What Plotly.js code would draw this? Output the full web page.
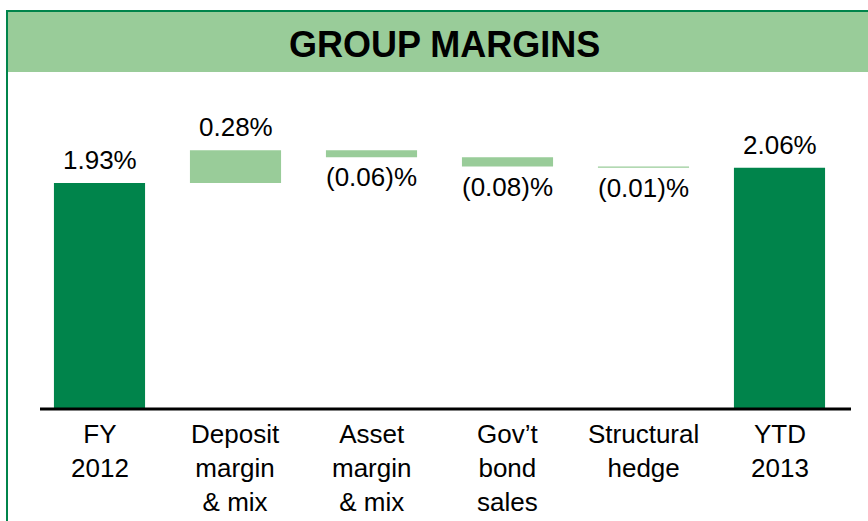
<!DOCTYPE html>
<html>
<head>
<meta charset="utf-8">
<script src="https://cdn.plot.ly/plotly-3.0.1.min.js"></script>
<style>
  html, body { margin: 0; padding: 0; background: #ffffff; }
  #chart { width: 868px; height: 521px; }
</style>
</head>
<body>
<div id="chart"></div>
<script>
// ---- data ----
const categories = ["FY<br>2012", "Deposit<br>margin<br>& mix", "Asset<br>margin<br>& mix", "Gov\u2019t<br>bond<br>sales", "Structural<br>hedge", "YTD<br>2013"];
const values = [1.93, 0.28, -0.06, -0.08, -0.01, 2.06];
const measures = ["absolute", "relative", "relative", "relative", "relative", "total"];
const valueLabels = ["1.93%", "0.28%", "(0.06)%", "(0.08)%", "(0.01)%", "2.06%"];
const chartTitle = "GROUP MARGINS";

// ---- styles ----
const darkGreen = "#00844B";
const lightGreen = "#99CC99";
const borderGreen = "#00844B";
const font = "Arial, 'Liberation Sans', sans-serif";
const titleFont = "Arial, 'Liberation Sans', sans-serif";

const W = 868, H = 521;
const pxPerCat = 136, firstCatPx = 99.5;
const baselinePx = 409, pxPerUnit = 117.1;

const xr0 = -firstCatPx / pxPerCat;
const xr1 = xr0 + W / pxPerCat;
const yr1 = baselinePx / pxPerUnit;
const yr0 = yr1 - H / pxPerUnit;

const trace = {
  type: "waterfall",
  x: categories,
  y: values,
  measure: measures,
  orientation: "v",
  width: 0.67,
  increasing: { marker: { color: lightGreen } },
  decreasing: { marker: { color: lightGreen } },
  totals: { marker: { color: darkGreen } },
  connector: { visible: false },
  textposition: "none",
  hoverinfo: "skip"
};

// compute bar extents for labels
const annotations = [];
let cum = 0;
categories.forEach((c, i) => {
  let lo, hi, pos;
  if (measures[i] === "absolute") { cum = values[i]; lo = 0; hi = cum; pos = true; }
  else if (measures[i] === "total") { lo = 0; hi = cum; pos = true; }
  else { const s = cum; cum += values[i]; lo = Math.min(s, cum); hi = Math.max(s, cum); pos = values[i] >= 0; }
  annotations.push({
    x: c, y: pos ? hi : lo, xref: "x", yref: "y",
    text: valueLabels[i], showarrow: false,
    yanchor: pos ? "bottom" : "top",
    yshift: pos ? 6 : -3,
    font: { family: font, size: 26, color: "#000000" }
  });
  annotations.push({
    x: c, y: 0, xref: "x", yref: "y",
    text: c, showarrow: false, yanchor: "top", yshift: -8,
    font: { family: font, size: 26, color: "#000000" }
  });
});

annotations.push({
  x: 444 / W, y: 1 - 44 / H, xref: "paper", yref: "paper",
  text: "<b>" + chartTitle + "</b>", showarrow: false,
  xanchor: "center", yanchor: "middle",
  font: { family: titleFont, size: 36, color: "#000000" }
});

const shapes = [
  // header band
  { type: "rect", xref: "paper", yref: "paper", x0: 8 / W, x1: 1.01, y0: 1 - 72 / H, y1: 1 - 12 / H,
    fillcolor: lightGreen, line: { width: 0 }, layer: "below" },
  // top border
  { type: "line", xref: "paper", yref: "paper", x0: 6 / W, x1: 1.01, y0: 1 - 11 / H, y1: 1 - 11 / H,
    line: { color: borderGreen, width: 2 } },
  // left border
  { type: "line", xref: "paper", yref: "paper", x0: 7 / W, x1: 7 / W, y0: -0.01, y1: 1 - 10 / H,
    line: { color: borderGreen, width: 2 } },
  // baseline
  { type: "line", xref: "x", yref: "y", x0: xr0 + (40 / pxPerCat), x1: xr0 + (851 / pxPerCat), y0: 0, y1: 0,
    line: { color: "#000000", width: 3 } }
];

const layout = {
  width: W, height: H,
  margin: { l: 0, r: 0, t: 0, b: 0 },
  paper_bgcolor: "#ffffff",
  plot_bgcolor: "rgba(0,0,0,0)",
  showlegend: false,
  hovermode: false,
  xaxis: { visible: false, range: [xr0, xr1], type: "category", fixedrange: true },
  yaxis: { visible: false, range: [yr0, yr1], fixedrange: true },
  annotations: annotations,
  shapes: shapes
};

Plotly.newPlot("chart", [trace], layout, { displayModeBar: false, staticPlot: true });
</script>
</body>
</html>
